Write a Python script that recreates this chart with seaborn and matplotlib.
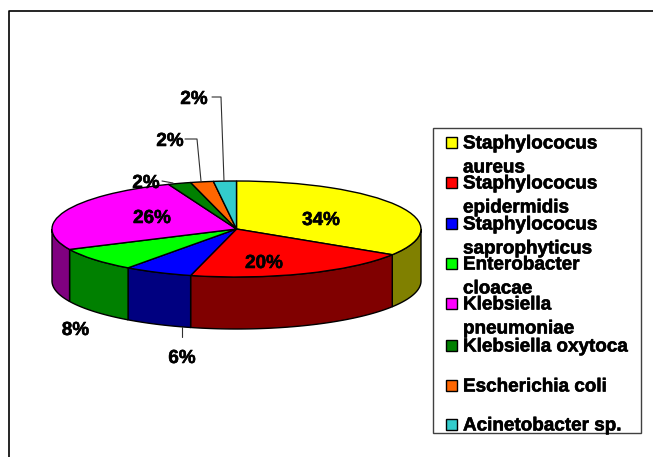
import numpy as np
import pandas as pd
import matplotlib
matplotlib.use('Agg')
import matplotlib.pyplot as plt
import matplotlib.patheffects as pe
from matplotlib.patches import Rectangle
import seaborn as sns

# dados
species = ['Staphylococus aureus', 'Staphylococus epidermidis', 'Staphylococus saprophyticus',
           'Enterobacter cloacae', 'Klebsiella pneumoniae', 'Klebsiella oxytoca',
           'Escherichia coli', 'Acinetobacter sp.']
legend_lines = ['Staphylococus\naureus', 'Staphylococus\nepidermidis', 'Staphylococus\nsaprophyticus',
                'Enterobacter\ncloacae', 'Klebsiella\npneumoniae', 'Klebsiella oxytoca',
                'Escherichia coli', 'Acinetobacter sp.']
percent = [34, 20, 6, 8, 26, 2, 2, 2]
top_colors = ['#FFFF00', '#FF0000', '#0000FF', '#00FF00', '#FF00FF', '#008000', '#FF6600', '#33CCCC']
side_colors = ['#808000', '#800000', '#000080', '#008000', '#800080', '#004000', '#803300', '#1A6666']

W, H = 653, 457
CX, CY, RX, RY = 236.5, 229, 184.5, 48
DEPTH = 52 / RY
FS = 13.6
HEAVY = [pe.withStroke(linewidth=0.4, foreground='black')]

sns.set_theme(style='white')
plt.rcParams['font.family'] = ['Liberation Sans', 'DejaVu Sans']
plt.rcParams['font.weight'] = 'bold'

df = pd.DataFrame({'species': species, 'percent': percent})
palette = sns.color_palette(top_colors)

fig = plt.figure(figsize=(W / 100, H / 100), dpi=100, facecolor='white')

# camada da moldura e legenda, em pixels
bg = fig.add_axes([0, 0, 1, 1])
bg.set_xlim(0, W)
bg.set_ylim(H, 0)
bg.axis('off')
bg.plot([9, 9, W], [H, 10.5, 10.5], color='black', lw=1.2)

# pizza achatada
ax = fig.add_axes([(CX - RX) / W, 1 - (CY + RY) / H, 2 * RX / W, 2 * RY / H])
ax.patch.set_alpha(0)

# parede lateral, so a metade da frente
edges = 90 - np.cumsum([0] + percent) * 3.6
for a0, a1, col in zip(edges[:-1], edges[1:], side_colors):
    lo, hi = a1 % 360, a0 % 360
    if hi < lo:
        hi += 360
    lo, hi = max(lo, 180), min(hi, 360)
    if hi <= lo:
        continue
    t = np.radians(np.linspace(lo, hi, 60))
    xs = np.r_[np.cos(t), np.cos(t[::-1])]
    ys = np.r_[np.sin(t), np.sin(t[::-1]) - DEPTH]
    ax.fill(xs, ys, fc=col, ec='black', lw=1.0, clip_on=False, zorder=1)

wedges, _ = ax.pie(df['percent'], colors=palette, startangle=90, counterclock=False,
                   radius=1, wedgeprops={'ec': 'black', 'lw': 1.0, 'clip_on': False, 'zorder': 2})
ax.set_aspect('auto')
ax.set_xlim(-1, 1)
ax.set_ylim(-1, 1)
ax.axis('off')

# texto por cima da pizza
top = fig.add_axes([0, 0, 1, 1])
top.set_xlim(0, W)
top.set_ylim(H, 0)
top.axis('off')
top.patch.set_alpha(0)

# linhas de chamada
for xs, ys in [([182, 182], [327, 337]),
               ([162, 173], [181, 183]),
               ([185, 197, 201], [139, 139, 181]),
               ([212, 221, 224], [97, 97, 181])]:
    top.plot(xs, ys, color='#303030', lw=0.8)

# rotulos de porcentagem, na ordem das fatias
label_xy = [(321, 220.5), (264, 263.5), (182, 358.5), (75.5, 330.5), (152, 218.5), (146, 183.5), (170, 141.5), (194, 99.5)]
for p, (lx, ly) in zip(percent, label_xy):
    top.text(lx, ly, f'{p}%', ha='center', va='center', fontsize=FS, fontweight='bold',
             color='black', path_effects=HEAVY)

# legenda
top.add_patch(Rectangle((433, 128), 207.5, 305, fc='white', ec='#404040', lw=1.0))
row_y = [144, 184, 225, 265, 305, 347, 387, 426]
for name, col, y in zip(legend_lines, palette, row_y):
    top.add_patch(Rectangle((445.5, y - 7.5), 11, 11, fc=col, ec='black', lw=1.0))
    for i, part in enumerate(name.split('\n')):
        top.text(463, y + i * 24, part, ha='left', va='center', fontsize=FS,
                 fontweight='bold', color='black', path_effects=HEAVY)

fig.savefig('out.png', dpi=100)
